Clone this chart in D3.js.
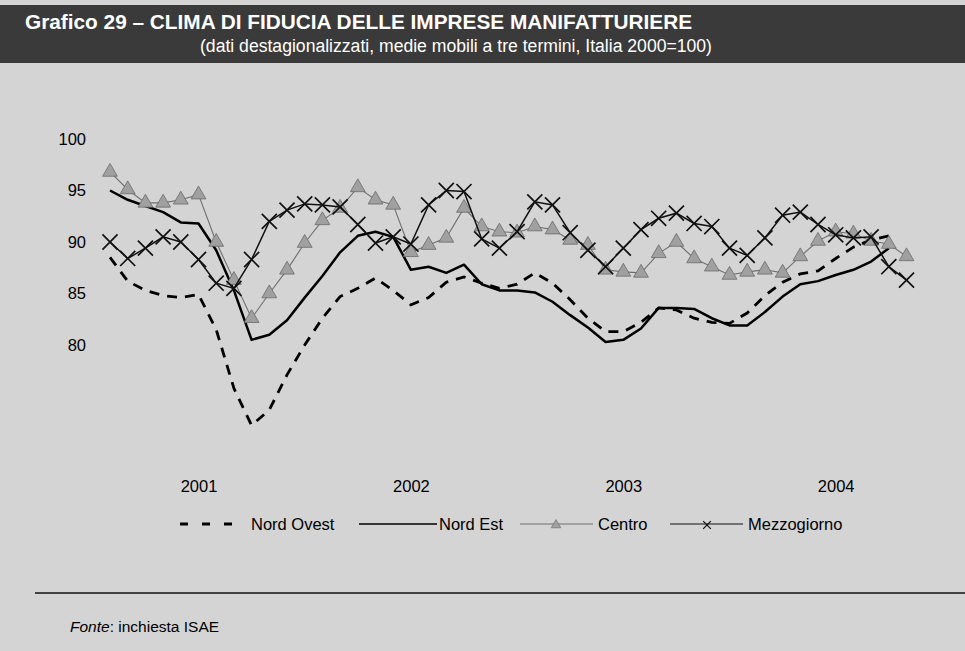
<!DOCTYPE html>
<html><head><meta charset="utf-8">
<script src="https://cdn.jsdelivr.net/npm/d3@7"></script>
<style>
html,body{margin:0;padding:0;background:#d6d6d6;}
svg{display:block;font-family:"Liberation Sans",Arial,Helvetica,sans-serif;}
</style></head>
<body>
<svg id="chart" width="965" height="651"></svg>
<script>
// ---- data (monthly, Jan 2001 – Oct 2004) ----
const years = ["2001", "2002", "2003", "2004"];
const yTicks = [80, 85, 90, 95, 100];
const seriesNames = ["Nord Ovest", "Nord Est", "Centro", "Mezzogiorno"];

const nordOvest = [88.5,86.2,85.3,84.8,84.6,84.9,81.5,75.8,72.2,73.7,77.1,80.0,
  82.6,84.7,85.5,86.5,85.3,83.9,84.6,86.1,86.6,86.0,85.5,85.9,
  87.0,86.0,84.4,82.6,81.3,81.3,82.2,83.6,83.4,82.6,82.2,82.1,
  83.1,84.8,86.1,86.9,87.2,88.4,89.5,90.2,90.6];
const nordEst = [95.0,94.1,93.5,92.9,91.9,91.8,89.2,85.3,80.5,81.0,82.4,84.6,
  86.7,89.0,90.6,91.0,90.5,87.3,87.6,87.0,87.8,85.9,85.3,85.3,
  85.1,84.2,82.9,81.7,80.3,80.5,81.6,83.6,83.6,83.5,82.6,81.9,
  81.9,83.2,84.7,85.9,86.2,86.8,87.3,88.1,89.4];
const centro = [96.8,95.1,93.8,93.8,94.1,94.6,90.0,86.3,82.6,85.0,87.3,89.9,
  92.1,93.3,95.3,94.1,93.6,89.0,89.7,90.4,93.3,91.5,91.0,90.9,
  91.5,91.2,90.2,89.7,87.3,87.1,87.0,88.9,90.0,88.4,87.6,86.8,
  87.1,87.3,87.0,88.6,90.1,91.0,90.8,90.1,89.8,88.6];
const mezzogiorno = [90.0,88.4,89.4,90.5,90.0,88.3,86.0,85.5,88.3,92.0,93.1,93.7,
  93.6,93.4,91.7,89.9,90.5,89.8,93.6,95.0,94.9,90.3,89.4,91.0,
  93.9,93.6,90.9,89.2,87.6,89.4,91.2,92.3,92.8,91.8,91.5,89.4,
  88.7,90.4,92.6,92.9,91.7,90.7,90.4,90.5,87.6,86.3];

// ---- layout ----
const W = 965, H = 651;
const svg = d3.select("#chart");

svg.append("rect").attr("x",0).attr("y",0).attr("width",W).attr("height",H).attr("fill","#d4d4d4");

// title bar
svg.append("rect").attr("x",0).attr("y",5).attr("width",W).attr("height",58).attr("fill","#3a3a3a");
svg.append("text").attr("x",25).attr("y",29).attr("fill","#fff")
  .attr("font-size",20.8).attr("font-weight","bold")
  .text("Grafico 29 – CLIMA DI FIDUCIA DELLE IMPRESE MANIFATTURIERE");
svg.append("text").attr("x",200).attr("y",52).attr("fill","#fff")
  .attr("font-size",17.6)
  .text("(dati destagionalizzati, medie mobili a tre termini, Italia 2000=100)");

// scales
const n = 46;
const x = d3.scaleLinear().domain([0, n - 1]).range([110, 906.5]);
const y = d3.scaleLinear().domain([80, 100]).range([345, 139]);

// y axis labels
const yAxis = d3.axisLeft(y).tickValues(yTicks).tickSize(0).tickPadding(0);
const gy = svg.append("g").attr("transform","translate(86,0)").call(yAxis);
gy.select(".domain").remove();
gy.selectAll("text").attr("font-size",16.5).attr("fill","#000")
  .attr("font-family","'Liberation Sans',Arial,sans-serif");

// x axis labels (years)
const xYear = d3.scaleOrdinal().domain(years).range(years.map((d,k)=>x(12*k+5)));
const xAxis = d3.axisBottom(xYear).tickSize(0).tickPadding(0);
const gx = svg.append("g").attr("transform","translate(0,480)").call(xAxis);
gx.select(".domain").remove();
gx.selectAll("text").attr("font-size",16.5).attr("fill","#000")
  .attr("font-family","'Liberation Sans',Arial,sans-serif");

const line = d3.line().x((d,i)=>x(i)).y(d=>y(d));

// Nord Ovest - dashed
svg.append("path").datum(nordOvest).attr("d",line).attr("fill","none")
  .attr("stroke","#000").attr("stroke-width",2.8).attr("stroke-dasharray","10,8");
// Nord Est - solid
svg.append("path").datum(nordEst).attr("d",line).attr("fill","none")
  .attr("stroke","#000").attr("stroke-width",2.5).attr("stroke-linejoin","round");
// Centro - gray with triangles
svg.append("path").datum(centro).attr("d",line).attr("fill","none")
  .attr("stroke","#6f6f6f").attr("stroke-width",1.1);
const tri = d3.symbol().type(d3.symbolTriangle).size(95);
svg.append("g").selectAll("path").data(centro).join("path")
  .attr("d",tri).attr("transform",(d,i)=>`translate(${x(i)},${y(d)})`)
  .attr("fill","#a0a0a0").attr("stroke","#6a6a6a").attr("stroke-width",0.8);
// Mezzogiorno - black thin with X markers
svg.append("path").datum(mezzogiorno).attr("d",line).attr("fill","none")
  .attr("stroke","#111").attr("stroke-width",1.5);
svg.append("g").selectAll("path").data(mezzogiorno).join("path")
  .attr("d",d3.symbol().type(d3.symbolTimes).size(150))
  .attr("transform",(d,i)=>`translate(${x(i)},${y(d)})`)
  .attr("fill","none").attr("stroke","#111").attr("stroke-width",1.7);

// legend
const ly = 524;
const lg = svg.append("g").attr("font-size",16.5).attr("fill","#000");
lg.append("line").attr("x1",180).attr("x2",242).attr("y1",ly).attr("y2",ly)
  .attr("stroke","#000").attr("stroke-width",2.8).attr("stroke-dasharray","8,14");
lg.append("text").attr("x",251).attr("y",ly+6).text(seriesNames[0]);
lg.append("line").attr("x1",359).attr("x2",437).attr("y1",ly).attr("y2",ly)
  .attr("stroke","#000").attr("stroke-width",1.6);
lg.append("text").attr("x",439).attr("y",ly+6).text(seriesNames[1]);
lg.append("line").attr("x1",520).attr("x2",593).attr("y1",ly).attr("y2",ly)
  .attr("stroke","#6f6f6f").attr("stroke-width",1.2);
lg.append("path").attr("d",d3.symbol().type(d3.symbolTriangle).size(40)())
  .attr("transform",`translate(556,${ly+1})`).attr("fill","#a0a0a0").attr("stroke","#6a6a6a").attr("stroke-width",0.6);
lg.append("text").attr("x",598).attr("y",ly+6).text(seriesNames[2]);
lg.append("line").attr("x1",670).attr("x2",743).attr("y1",ly).attr("y2",ly)
  .attr("stroke","#111").attr("stroke-width",1.2);
lg.append("path").attr("d",d3.symbol().type(d3.symbolTimes).size(40)())
  .attr("transform",`translate(707,${ly+1})`).attr("fill","none").attr("stroke","#111").attr("stroke-width",1.2);
lg.append("text").attr("x",748).attr("y",ly+6).text(seriesNames[3]);

// bottom rule and source
svg.append("line").attr("x1",35).attr("x2",W).attr("y1",593).attr("y2",593)
  .attr("stroke","#111").attr("stroke-width",1.6);
const src = svg.append("text").attr("x",70).attr("y",632).attr("font-size",15.5).attr("fill","#000");
src.append("tspan").attr("font-style","italic").text("Fonte");
src.append("tspan").text(": inchiesta ISAE");
</script>
</body></html>
